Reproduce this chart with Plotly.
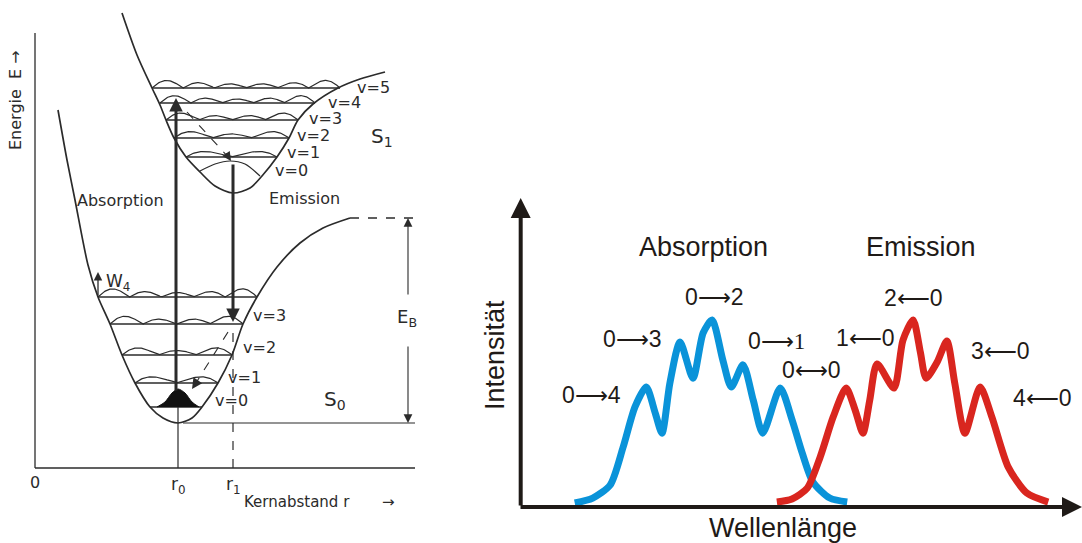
import numpy as np
import plotly.graph_objects as go

W, H = 1082, 543
INK = "#2b2b2b"
BLACK = "#1f1a17"
FONT = "Liberation Sans, Arial, sans-serif"
LFONT = "DejaVu Sans, sans-serif"

# ---------------- Left panel: Franck-Condon diagram (r = Kernabstand, E = Energie, arb. units)
s0_r = [23, 32, 40, 53, 63, 75, 87, 100, 115, 128, 143, 157, 167, 183, 197, 208, 222, 242, 265, 288, 315]
s0_E = [358, 308, 268, 203, 171, 144, 113, 85, 61, 50, 45, 50, 61, 85, 113, 144, 171, 201, 225, 240, 250]
s1_r = [87, 102, 117, 125, 131, 139, 151, 165, 180, 198, 215, 227, 242, 254, 263, 278, 303, 325, 350]
s1_E = [455, 413, 380, 363, 348, 330, 311, 296, 282, 275, 280, 292, 311, 330, 348, 364, 380, 389, 396]

# vibrational levels: v, energy, left and right turning points
s0_v = [0, 1, 2, 3, 4]
s0_lev_E = [61, 85, 113, 144, 171]
s0_lev_rl = [115, 100, 87, 75, 63]
s0_lev_rr = [167, 183, 197, 208, 222]
s1_v = [1, 2, 3, 4, 5]
s1_lev_E = [311, 330, 348, 365, 380]
s1_lev_rl = [151, 139, 131, 125, 117]
s1_lev_rr = [242, 254, 263, 280, 305]
# v=0 wavefunction of S1 (read points)
s1_v0_r = [165, 180, 195, 210, 225]
s1_v0_E = [297, 304, 307, 304, 292]
# populated ground state (filled)
s0_v0_r = [122, 130, 137, 143, 150, 157, 164]
s0_v0_E = [61, 66, 75, 79, 75, 66, 61]

dissoc_E = 250
r0, r1 = 143, 198
E_axis_top, r_axis_end = 435, 380

# ---------------- Right panel: spectra (Wellenlänge, Intensität, arb. units)
abs_wl = [9.9, 13.1, 16.2, 18.5, 20.6, 22.6, 24.2, 25.4, 26.8, 28.6, 30.9, 32.7, 34.3, 36.2,
          37.7, 39.8, 41.6, 43.3, 46.4, 48.5, 50.3, 52.2, 55.2, 58.3]
abs_int = [1.3, 2.9, 7.1, 19.4, 32.4, 38.8, 30.4, 23.9, 40.1, 53.4, 41.7, 56.3, 60.5, 47.6,
           38.8, 46.0, 34.6, 23.9, 38.5, 28.2, 17.5, 8.1, 2.9, 1.6]
em_wl = [45.8, 48.5, 51.2, 53.5, 55.8, 58.1, 59.7, 61.1, 62.3, 63.6, 66.6, 68.2, 70.0, 71.3,
         72.3, 74.3, 76.0, 77.4, 79.2, 81.9, 84.0, 86.9, 90.2, 94.0]
em_int = [1.6, 2.6, 6.1, 16.2, 29.1, 38.5, 31.4, 23.9, 34.6, 46.3, 38.5, 54.0, 60.5, 50.0,
          41.7, 47.0, 53.7, 40.1, 23.9, 38.8, 29.1, 12.9, 4.5, 1.6]

abs_labels = ["0⟶4", "0⟶3", "0⟶2", "0⟶<span style='font-family:Liberation Serif'>1</span>", "0⟷0"]
abs_lab_wl = [12.8, 20.2, 34.8, 45.8, 52.0]
abs_lab_int = [36.2, 54.4, 68.0, 53.7, 44.3]
em_labels = ["1⟵0", "2⟵0", "3⟵0", "4⟵0"]
em_lab_wl = [61.5, 70.0, 85.6, 92.9]
em_lab_int = [54.7, 67.6, 50.5, 35.3]

fig = go.Figure()


def line(x, y, width=1.6, dash=None, color=INK, shape="spline", xa="x", ya="y", fill=None):
    fig.add_trace(go.Scatter(
        x=x, y=y, mode="lines", xaxis=xa, yaxis=ya, fill=fill, fillcolor=color,
        line=dict(color=color, width=width, dash=dash, shape=shape, smoothing=0.8),
        hoverinfo="skip", showlegend=False))


def humps(E0, rl, rr, n, amp):
    t = np.linspace(0, 1, 40 * n + 1)
    env = 0.45 + 0.55 * (2 * t - 1) ** 2
    return rl + t * (rr - rl), E0 + amp * env * np.abs(np.sin(np.pi * n * t))


# potential curves
line(s0_r, s0_E, width=1.7)
line(s1_r, s1_E, width=1.7)
line([s0_r[-1], r_axis_end], [dissoc_E, dissoc_E], width=1.3, dash="dash", shape="linear")

# axes of left diagram
line([0, 0], [0, E_axis_top], width=1.3, shape="linear")
line([0, r_axis_end], [0, 0], width=1.3, shape="linear")

# levels + wavefunctions
for v, E0, rl, rr in zip(s0_v, s0_lev_E, s0_lev_rl, s0_lev_rr):
    line([rl, rr], [E0, E0], width=1.4, shape="linear")
    if v > 0:
        hx, hy = humps(E0, rl, rr, v + 1, 10)
        line(hx, hy, width=1.2, shape="linear")
for v, E0, rl, rr in zip(s1_v, s1_lev_E, s1_lev_rl, s1_lev_rr):
    line([rl, rr], [E0, E0], width=1.4, shape="linear")
    hx, hy = humps(E0, rl, rr, v + 1, 9)
    line(hx, hy, width=1.2, shape="linear")
line(s1_v0_r, s1_v0_E, width=1.2)
line(s0_v0_r, s0_v0_E, width=1, color="#111111", fill="toself")

# vertical guide lines
line([r0, r0], [0, s0_lev_E[0]], width=1.2, shape="linear")
line([r1, r1], [0, 138], width=1.2, dash="dash", shape="linear")
line([148, r_axis_end], [45, 45], width=1.2, shape="linear")
# relaxation (dashed)
line([152, 194], [356, 310], width=1.1, dash="dash", shape="linear")
line([193, 159], [136, 82], width=1.1, dash="dash", shape="linear")

ann = []


def arrow(x0, y0, x1, y1, w=3, head=2, size=0.9, color=INK, xr="x", yr="y"):
    ann.append(dict(x=x1, y=y1, ax=x0, ay=y0, xref=xr, yref=yr, axref=xr, ayref=yr,
                    text="", showarrow=True, arrowhead=head, arrowwidth=w,
                    arrowsize=size, arrowcolor=color))


arrow(141, 76, 141, 370)          # absorption
arrow(r1, 305, r1, 146)           # emission
arrow(190, 316, 196, 307, w=1.5, size=1.2)
arrow(163, 88, 157, 79, w=1.5, size=1.4)
arrow(373, 172, 373, dissoc_E, w=1.1, size=1.6)
arrow(373, 123, 373, 45, w=1.1, size=1.6)
arrow(63, 171, 63, 196, w=1.3, size=1.3)

# right axes
arrow(0, 0, 100, 0, w=4, size=1.0, color=BLACK, xr="x2", yr="y2")
arrow(0.3, 0, 0.3, 100, w=4, size=1.0, color=BLACK, xr="x2", yr="y2")


def text(t, x, y, size=16, color=INK, xanchor="center", xr="x", yr="y", angle=0, font=FONT):
    ann.append(dict(text=t, x=x, y=y, xref=xr, yref=yr, showarrow=False, xanchor=xanchor,
                    yanchor="middle", textangle=angle, font=dict(size=size, color=color, family=font)))


left_labels = [("v=5", 320, 381), ("v=4", 291, 366), ("v=3", 272, 350), ("v=2", 260, 333),
               ("v=1", 250, 316), ("v=0", 238, 298),
               ("v=0", 178, 68), ("v=1", 191, 91), ("v=2", 206, 121), ("v=3", 216, 153)]
for t, x, y in left_labels:
    text(t, x, y, size=16, xanchor="left", font=LFONT)
text("S<sub>1</sub>", 347, 331, size=20, font=LFONT)
text("S<sub>0</sub>", 300, 68, size=20, font=LFONT)
text("E<sub>B</sub>", 372, 150, size=18, font=LFONT)
text("W<sub>4</sub>", 83, 186, size=17, font=LFONT)
text("Absorption", 85, 268, size=16, font=LFONT)
text("Emission", 269, 270, size=16, font=LFONT)
text("0", 0, -14, size=16, font=LFONT)
text("r<sub>0</sub>", r0, -17, size=17, font=LFONT)
text("r<sub>1</sub>", r1, -17, size=17, font=LFONT)
text("Kernabstand r", 262, -34, size=15, font=LFONT)
text("→", 353, -34, size=15, font=LFONT)
text("Energie  E →", -20, 368, size=16, angle=-90, font=LFONT)

# spectra
fig.add_trace(go.Scatter(x=abs_wl, y=abs_int, mode="lines", xaxis="x2", yaxis="y2",
                         line=dict(color="#0a93d9", width=7, shape="spline", smoothing=0.7),
                         hoverinfo="skip", showlegend=False))
fig.add_trace(go.Scatter(x=em_wl, y=em_int, mode="lines", xaxis="x2", yaxis="y2",
                         line=dict(color="#d9261f", width=7, shape="spline", smoothing=0.7),
                         hoverinfo="skip", showlegend=False))

for t, x, y in zip(abs_labels + em_labels, abs_lab_wl + em_lab_wl, abs_lab_int + em_lab_int):
    text(t, x, y, size=23, color=BLACK, xr="x2", yr="y2")
text("Absorption", 32.7, 84.1, size=27, color=BLACK, xr="x2", yr="y2")
text("Emission", 71.4, 84.1, size=27, color=BLACK, xr="x2", yr="y2")
text("Intensität", 495 / W, 1 - 355 / H, size=27, color=BLACK, xr="paper", yr="paper", angle=-90)
text("Wellenlänge", 783 / W, 1 - 528 / H, size=27, color=BLACK, xr="paper", yr="paper")

hidden = dict(visible=False, fixedrange=True)
fig.update_layout(
    width=W, height=H, margin=dict(l=0, r=0, t=0, b=0), autosize=False,
    paper_bgcolor="white", plot_bgcolor="rgba(0,0,0,0)",
    xaxis=dict(domain=[0, 1], range=[-35, W - 35], **hidden),
    yaxis=dict(domain=[0, 1], range=[468 - H, 468], **hidden),
    xaxis2=dict(domain=[519 / W, 1], range=[0, 100], anchor="y2", **hidden),
    yaxis2=dict(domain=[36 / H, 345 / H], range=[0, 100], anchor="x2", **hidden),
    annotations=ann, showlegend=False,
)
fig.write_html("out.html", config={"displayModeBar": False},
               post_script="document.body.style.margin='0';document.body.style.overflow='hidden';")
